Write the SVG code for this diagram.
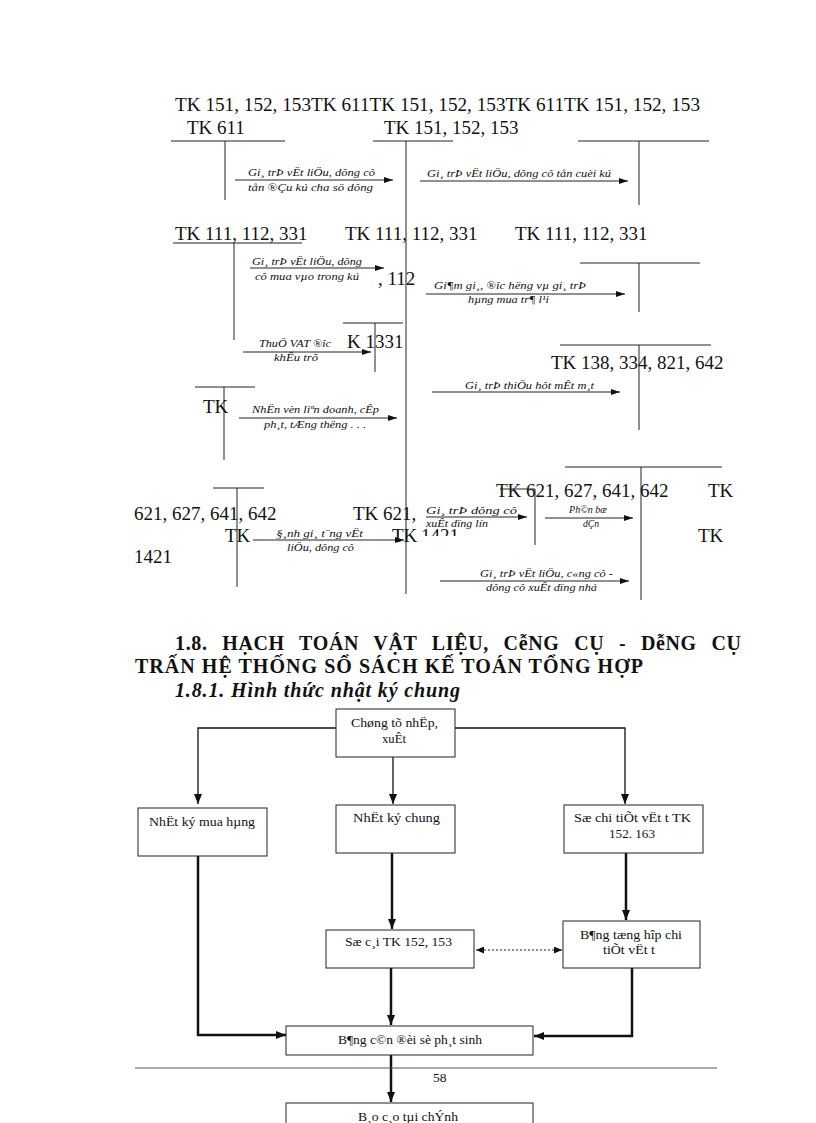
<svg xmlns="http://www.w3.org/2000/svg" width="816" height="1123" viewBox="0 0 816 1123">
<style>
.tk{font-family:"Liberation Serif","Times New Roman",serif;font-size:19px;fill:#111}
.lb{font-family:"Liberation Serif","Times New Roman",serif;font-size:11px;font-style:italic;fill:#111}
.fc{font-family:"Liberation Serif","Times New Roman",serif;font-size:13.5px;fill:#111}
.h1{font-family:"Liberation Serif","Times New Roman",serif;font-size:20px;font-weight:bold;fill:#111}
.ln{stroke:#222;stroke-width:1;fill:none}
.ar{stroke:#222;stroke-width:1;fill:none;marker-end:url(#ah)}
.thin{stroke:#111;stroke-width:1.3;fill:none;marker-end:url(#ahb)}
.thick{stroke:#111;stroke-width:2.5;fill:none;marker-end:url(#ahb)}
.box{fill:#fff;stroke:#222;stroke-width:1}
</style>
<defs>
<marker id="ah" markerWidth="9" markerHeight="6" refX="9" refY="3" orient="auto" markerUnits="userSpaceOnUse"><path d="M0,0 L9,3 L0,6 z" fill="#111"/></marker>
<marker id="ahb" markerWidth="10" markerHeight="8" refX="10" refY="4" orient="auto" markerUnits="userSpaceOnUse"><path d="M0,0 L10,4 L0,8 z" fill="#111"/></marker>
<marker id="ahd" markerWidth="8" markerHeight="7" refX="8" refY="3.5" orient="auto-start-reverse" markerUnits="userSpaceOnUse"><path d="M0,0 L8,3.5 L0,7 z" fill="#111"/></marker>
<clipPath id="cut1421"><rect x="410" y="480" width="70" height="56"/></clipPath>
</defs>
<rect width="816" height="1123" fill="#fff"/>

<!-- Top T-account section -->
<g id="header-row">
<text class="tk" x="175" y="111" textLength="525" lengthAdjust="spacingAndGlyphs">TK 151, 152, 153TK 611TK 151, 152, 153TK 611TK 151, 152, 153</text>
</g>
<g id="tk611">
<text class="tk" x="187" y="134">TK 611</text>
<line class="ln" x1="171" y1="141" x2="285" y2="141"/>
<line class="ln" x1="225" y1="141" x2="225" y2="200"/>
</g>
<g id="tk151-main">
<text class="tk" x="384" y="134">TK 151, 152, 153</text>
<line class="ln" x1="373" y1="141" x2="453" y2="141"/>
<line class="ln" x1="406" y1="141" x2="406" y2="594"/>
</g>
<g id="tk-right-1">
<line class="ln" x1="578" y1="141" x2="709" y2="141"/>
<line class="ln" x1="639" y1="141" x2="639" y2="205"/>
</g>
<g id="tk111">
<text class="tk" x="175" y="240">TK 111, 112, 331</text>
<line class="ln" x1="173" y1="243" x2="302" y2="243"/>
<line class="ln" x1="234" y1="243" x2="234" y2="340"/>
<text class="tk" x="345" y="240">TK 111, 112, 331</text>
<text class="tk" x="515" y="240">TK 111, 112, 331</text>
<text class="tk" x="378" y="285">, 112</text>
</g>
<g id="tk-right-2">
<line class="ln" x1="580" y1="263" x2="700" y2="263"/>
<line class="ln" x1="639" y1="263" x2="639" y2="312"/>
</g>
<g id="tk1331">
<line class="ln" x1="343" y1="323" x2="403" y2="323"/>
<line class="ln" x1="375" y1="323" x2="375" y2="372"/>
<text class="tk" x="347" y="348">K 1331</text>
</g>
<g id="tk138">
<line class="ln" x1="560" y1="345" x2="711" y2="345"/>
<line class="ln" x1="639" y1="345" x2="639" y2="430"/>
<text class="tk" x="551" y="369">TK 138, 334, 821, 642</text>
</g>
<g id="tk-left-small">
<line class="ln" x1="195" y1="387" x2="255" y2="387"/>
<line class="ln" x1="224" y1="387" x2="224" y2="460"/>
<text class="tk" x="203" y="413">TK</text>
</g>
<g id="tk621-right">
<line class="ln" x1="565" y1="467" x2="722" y2="467"/>
<line class="ln" x1="641" y1="467" x2="641" y2="600"/>
<text class="tk" x="496" y="497">TK 621, 627, 641, 642</text>
<text class="tk" x="708" y="497">TK</text>
<text class="tk" x="698" y="542">TK</text>
</g>
<g id="tk-small-mid">
<line class="ln" x1="500" y1="489" x2="535" y2="489"/>
<line class="ln" x1="535" y1="489" x2="535" y2="545"/>
</g>
<g id="tk621-left">
<line class="ln" x1="213" y1="488" x2="264" y2="488"/>
<line class="ln" x1="237" y1="488" x2="237" y2="587"/>
<text class="tk" x="134" y="520">621, 627, 641, 642</text>
<text class="tk" x="225" y="542">TK</text>
<text class="tk" x="134" y="563">1421</text>
<text class="tk" x="353" y="520">TK 621,</text>
<text class="tk" x="392" y="542">TK</text>
<text class="tk" x="421" y="542" clip-path="url(#cut1421)">1421</text>
</g>

<g id="connectors-top">
<line class="ar" x1="235" y1="180" x2="393" y2="180"/>
<text class="lb" x="248" y="176" textLength="127" lengthAdjust="spacingAndGlyphs">Gi¸ trÞ vËt liÖu, dông cô</text>
<text class="lb" x="248" y="191" textLength="125" lengthAdjust="spacingAndGlyphs">tån ®Çu kú cha  sö dông</text>
<line class="ar" x1="420" y1="181" x2="628" y2="181"/>
<text class="lb" x="427" y="177" textLength="184" lengthAdjust="spacingAndGlyphs">Gi¸ trÞ vËt liÖu, dông cô tån cuèi kú</text>
<line class="ar" x1="250" y1="268" x2="384" y2="268"/>
<text class="lb" x="252" y="265" textLength="110" lengthAdjust="spacingAndGlyphs">Gi¸ trÞ vËt liÖu, dông</text>
<text class="lb" x="255" y="280" textLength="104" lengthAdjust="spacingAndGlyphs">cô mua vµo trong kú</text>
<line class="ar" x1="426" y1="294" x2="625" y2="294"/>
<text class="lb" x="434" y="289" textLength="152" lengthAdjust="spacingAndGlyphs">Gi¶m gi¸, ®îc  hëng  vµ gi¸ trÞ</text>
<text class="lb" x="468" y="303" textLength="81" lengthAdjust="spacingAndGlyphs">hµng mua tr¶ l¹i</text>
<line class="ar" x1="243" y1="352" x2="371" y2="352"/>
<text class="lb" x="259" y="347" textLength="72" lengthAdjust="spacingAndGlyphs">ThuÕ VAT ®îc</text>
<text class="lb" x="274" y="361" textLength="44" lengthAdjust="spacingAndGlyphs">khÊu trõ</text>
<line class="ar" x1="432" y1="392" x2="620" y2="392"/>
<text class="lb" x="465" y="389" textLength="129" lengthAdjust="spacingAndGlyphs">Gi¸ trÞ thiÕu hôt mÊt m¸t</text>
<line class="ar" x1="239" y1="418" x2="397" y2="418"/>
<text class="lb" x="252" y="413" textLength="127" lengthAdjust="spacingAndGlyphs">NhËn vèn liªn doanh, cÊp</text>
<text class="lb" x="264" y="428" textLength="102" lengthAdjust="spacingAndGlyphs">ph¸t, tÆng thëng  . . .</text>
<line class="ar" x1="426" y1="517" x2="527" y2="517"/>
<text class="lb" x="426" y="514" textLength="91" lengthAdjust="spacingAndGlyphs">Gi¸ trÞ dông cô</text>
<text class="lb" x="426" y="527" textLength="62" lengthAdjust="spacingAndGlyphs">xuÊt dïng lín</text>
<line class="ar" x1="545" y1="518" x2="633" y2="518"/>
<text class="lb" x="569" y="513" textLength="38" lengthAdjust="spacingAndGlyphs">Ph©n bæ</text>
<text class="lb" x="583" y="527" textLength="16" lengthAdjust="spacingAndGlyphs">dÇn</text>
<line class="ar" x1="253" y1="540" x2="404" y2="540"/>
<text class="lb" x="276" y="537" textLength="87" lengthAdjust="spacingAndGlyphs">§¸nh gi¸ t¨ng vËt</text>
<text class="lb" x="287" y="551" textLength="67" lengthAdjust="spacingAndGlyphs">liÖu, dông cô</text>
<line class="ar" x1="440" y1="581" x2="629" y2="581"/>
<text class="lb" x="480" y="577" textLength="133" lengthAdjust="spacingAndGlyphs">Gi¸ trÞ vËt liÖu, c«ng cô -</text>
<text class="lb" x="486" y="591" textLength="111" lengthAdjust="spacingAndGlyphs">dông cô xuÊt dïng nhá</text>
</g>

<!-- Headings -->
<g id="headings">
<text class="h1" x="175" y="650" word-spacing="9" textLength="566" lengthAdjust="spacing">1.8. HẠCH TOÁN VẬT LIỆU, CễNG CỤ - DễNG CỤ</text>
<text class="h1" x="135" y="673" textLength="508" lengthAdjust="spacing">TRẤN HỆ THỐNG SỔ SÁCH KẾ TOÁN TỔNG HỢP</text>
<text class="h1" x="175" y="697" font-style="italic" textLength="285" lengthAdjust="spacing">1.8.1. Hình thức nhật ký chung</text>
</g>

<!-- Flowchart connectors -->
<g id="connectors-flow">
<polyline class="thin" points="336,728 198,728 198,804"/>
<polyline class="thin" points="455,728 625,728 625,804"/>
<line class="thin" x1="393" y1="757" x2="393" y2="804"/>
<polyline class="thick" points="198,856 198,1035 286,1035"/>
<line class="thick" x1="392" y1="853" x2="392" y2="929"/>
<line class="thick" x1="626" y1="853" x2="626" y2="920"/>
<line x1="476" y1="950" x2="562" y2="950" stroke="#222" stroke-width="1" stroke-dasharray="2,2" marker-start="url(#ahd)" marker-end="url(#ahd)"/>
<line class="thick" x1="391" y1="968" x2="391" y2="1025"/>
<polyline class="thick" points="632,968 632,1036 534,1036"/>
<line class="thick" x1="391" y1="1055" x2="391" y2="1102"/>
</g>

<g id="nodeA"><rect class="box" x="336" y="709" width="119" height="48"/>
<text class="fc" x="351" y="727" textLength="87" lengthAdjust="spacingAndGlyphs">Chøng tõ nhËp,</text>
<text class="fc" x="382" y="743" textLength="24" lengthAdjust="spacingAndGlyphs">xuÊt</text></g>
<g id="nodeB"><rect class="box" x="138" y="808" width="129" height="48"/>
<text class="fc" x="149" y="826" textLength="106" lengthAdjust="spacingAndGlyphs">NhËt ký mua hµng</text></g>
<g id="nodeC"><rect class="box" x="336" y="805" width="119" height="48"/>
<text class="fc" x="353" y="822" textLength="87" lengthAdjust="spacingAndGlyphs">NhËt ký chung</text></g>
<g id="nodeD"><rect class="box" x="564" y="805" width="139" height="48"/>
<text class="fc" x="574" y="822" textLength="117" lengthAdjust="spacingAndGlyphs">Sæ chi tiÕt vËt t  TK</text>
<text class="fc" x="609" y="838" textLength="46" lengthAdjust="spacingAndGlyphs">152. 163</text></g>
<g id="nodeE"><rect class="box" x="326" y="930" width="148" height="38"/>
<text class="fc" x="345" y="946" textLength="107" lengthAdjust="spacingAndGlyphs">Sæ c¸i TK 152, 153</text></g>
<g id="nodeG"><rect class="box" x="563" y="921" width="137" height="47"/>
<text class="fc" x="580" y="939" textLength="102" lengthAdjust="spacingAndGlyphs">B¶ng tæng hîp chi</text>
<text class="fc" x="603" y="954" textLength="52" lengthAdjust="spacingAndGlyphs">tiÕt vËt t</text></g>
<g id="nodeF"><rect class="box" x="286" y="1026" width="247" height="29"/>
<text class="fc" x="338" y="1044" textLength="144" lengthAdjust="spacingAndGlyphs">B¶ng c©n ®èi sè ph¸t sinh</text></g>
<g id="nodeH"><rect class="box" x="286" y="1103" width="247" height="30"/>
<text class="fc" x="358" y="1121" textLength="100" lengthAdjust="spacingAndGlyphs">B¸o c¸o tµi chÝnh</text></g>

<g id="footer">
<line x1="135" y1="1068" x2="717" y2="1068" stroke="#555" stroke-width="1"/>
<text class="fc" x="433" y="1082">58</text>
</g>
</svg>
